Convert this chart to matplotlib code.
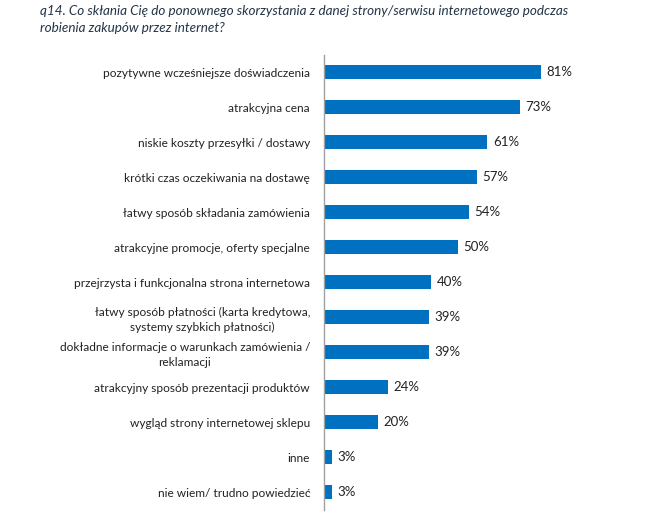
import matplotlib
matplotlib.use("Agg")
import matplotlib.pyplot as plt

categories = [
    "pozytywne wcześniejsze doświadczenia",
    "atrakcyjna cena",
    "niskie koszty przesyłki / dostawy",
    "krótki czas oczekiwania na dostawę",
    "łatwy sposób składania zamówienia",
    "atrakcyjne promocje, oferty specjalne",
    "przejrzysta i funkcjonalna strona internetowa",
    "łatwy sposób płatności (karta kredytowa,\nsystemy szybkich płatności)",
    "dokładne informacje o warunkach zamówienia /\nreklamacji",
    "atrakcyjny sposób prezentacji produktów",
    "wygląd strony internetowej sklepu",
    "inne",
    "nie wiem/ trudno powiedzieć",
]
values = [81, 73, 61, 57, 54, 50, 40, 39, 39, 24, 20, 3, 3]
title = ("q14. Co skłania Cię do ponownego skorzystania z danej strony/serwisu internetowego podczas\n"
         "robienia zakupów przez internet?")

plt.rcParams['font.family'] = ['Lato', 'DejaVu Sans']

fig = plt.figure(figsize=(6.49, 5.14), dpi=100)
ax = fig.add_axes([324/649, 1-509.5/514, 268/649, 455/514])

ypos = list(range(len(values)))
ax.barh(ypos, values, height=0.4, color="#0070C0")
ax.set_ylim(len(values)-0.5, -0.5)
ax.set_xlim(0, 100)

for y, v in zip(ypos, values):
    ax.text(v + 2, y, f"{v}%", va="center", ha="left", fontsize=9.5, color="#222222")

ax.set_yticks(ypos)
ax.set_yticklabels(categories, fontsize=8.6, color="#222222", multialignment="center",
                   linespacing=1.45)
ax.tick_params(axis="y", length=0, pad=10)
ax.set_xticks([])
for s in ["top", "right", "bottom"]:
    ax.spines[s].set_visible(False)
ax.spines["left"].set_color("#a0a0a0")
ax.spines["left"].set_linewidth(1.0)

fig.text(40/649, 1-5/514, title, fontsize=9.7, style="italic", color="#243447",
         ha="left", va="top", linespacing=1.55)

fig.savefig("out.png", dpi=100)
